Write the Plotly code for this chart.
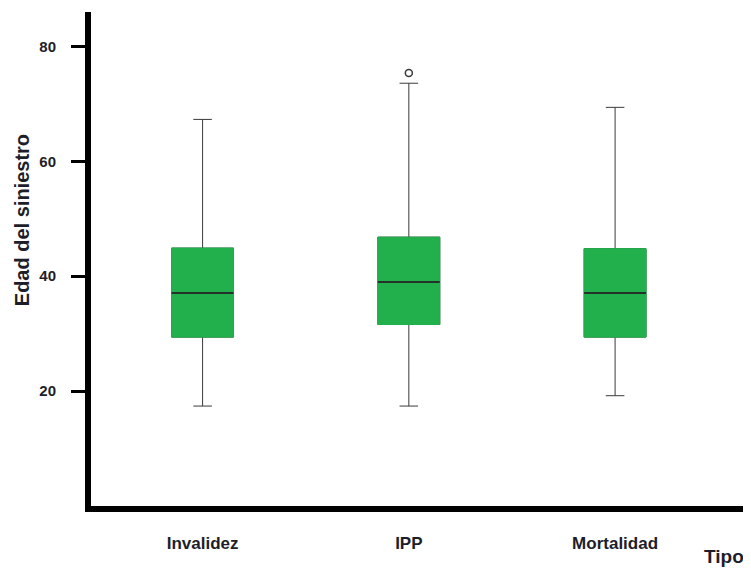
import plotly.graph_objects as go

categories = ["Invalidez", "IPP", "Mortalidad"]
lower_whisker = [17.4, 17.4, 19.2]
q1_values = [29.4, 31.6, 29.4]
median_values = [37.1, 39.0, 37.1]
q3_values = [44.9, 46.8, 44.8]
upper_whisker = [67.3, 73.6, 69.4]
outlier_category = ["IPP"]
outlier_values = [75.4]
y_ticks = [20, 40, 60, 80]

GREEN = "#22B04C"
DARK = "#3a3a3a"
TEXT = "#1e1e2a"
BOX_W = 0.3
FONT = "Liberation Sans, Arial, sans-serif"

fig = go.Figure()

# whiskers (and box base)
fig.add_trace(go.Box(
    x=categories, q1=q1_values, median=median_values, q3=q3_values,
    lowerfence=lower_whisker, upperfence=upper_whisker,
    fillcolor=GREEN, line=dict(color=DARK, width=1),
    width=BOX_W, whiskerwidth=0.3, boxpoints=False, showlegend=False,
    hoverinfo="skip",
))
# green body covering the dark outline
fig.add_trace(go.Box(
    x=categories, q1=q1_values, median=q1_values, q3=q3_values,
    lowerfence=q1_values, upperfence=q3_values,
    fillcolor=GREEN, line=dict(color=GREEN, width=1),
    width=BOX_W, whiskerwidth=0, boxpoints=False, showlegend=False,
    hoverinfo="skip",
))
# median line
fig.add_trace(go.Box(
    x=categories, q1=median_values, median=median_values, q3=median_values,
    lowerfence=median_values, upperfence=median_values,
    fillcolor="rgba(0,0,0,0)", line=dict(color="#24332a", width=2),
    width=BOX_W, whiskerwidth=0, boxpoints=False, showlegend=False,
    hoverinfo="skip",
))
# outlier
fig.add_trace(go.Scatter(
    x=outlier_category, y=outlier_values, mode="markers",
    marker=dict(symbol="circle-open", size=7, color=DARK, line=dict(width=1.5, color=DARK)),
    showlegend=False, hoverinfo="skip",
))

fig.update_layout(
    width=743, height=563,
    margin=dict(l=83, r=0, t=4, b=65),
    paper_bgcolor="white", plot_bgcolor="white",
    boxmode="overlay",
    font=dict(family=FONT, color=TEXT),
    xaxis=dict(
        type="category", range=[-0.541, 2.659],
        showline=True, linecolor="black", linewidth=6,
        showgrid=False, zeroline=False, ticks="",
        tickfont=dict(size=17, family=FONT, color=TEXT, weight="bold"),
        ticklabelstandoff=17,
    ),
    yaxis=dict(
        range=[0, 86], tickvals=y_ticks,
        showline=True, linecolor="black", linewidth=6,
        showgrid=False, zeroline=False,
        ticks="outside", ticklen=14, tickwidth=3, tickcolor="black",
        tickfont=dict(size=15, family=FONT, color=TEXT, weight="bold"),
        ticklabelstandoff=12,
    ),
    annotations=[
        dict(text="Edad del siniestro", xref="paper", yref="paper",
             x=-0.1045, y=0.5786, xanchor="center", yanchor="middle",
             textangle=-90, showarrow=False,
             font=dict(size=20, color=TEXT, weight="bold")),
        dict(text="Tipo", xref="paper", yref="paper",
             x=0.959, y=-0.103, xanchor="center", yanchor="middle",
             showarrow=False, font=dict(size=19, color=TEXT, weight="bold")),
    ],
)

fig.write_html("out.html")
